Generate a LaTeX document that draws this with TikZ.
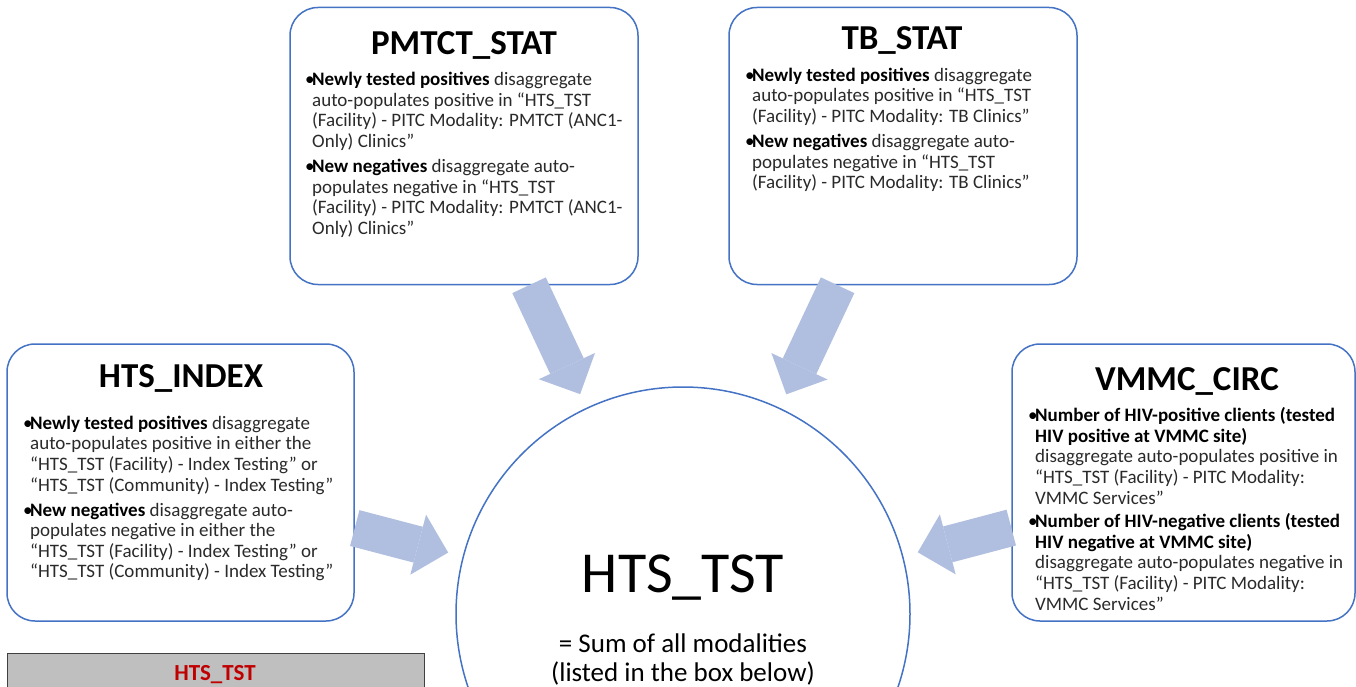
\documentclass[tikz,border=0pt]{standalone}
\usepackage{fontspec}
\setmainfont{Carlito}
\usetikzlibrary{arrows.meta}
\definecolor{boxblue}{HTML}{4472C4}
\definecolor{arrowblue}{HTML}{B0BEE0}
\definecolor{grayfill}{HTML}{BFBFBF}
\definecolor{grayline}{HTML}{404040}
\definecolor{darkred}{HTML}{C00000}
\definecolor{bodygray}{HTML}{2A2A2A}
\newcommand{\mybul}{\makebox[7pt][l]{\textcolor{black}{•}}}
\newcommand{\myind}{\hspace*{7pt}}
\newcommand{\mybold}[1]{\textbf{\textcolor{black}{#1}}}
\begin{document}
\begin{tikzpicture}[x=1pt,y=-1pt,
  infobox/.style={draw=boxblue, line width=1.5pt, rounded corners=28pt, fill=white,
    minimum height=277pt, inner sep=0pt},
  titletext/.style={anchor=base, inner sep=0pt, font=\fontsize{35pt}{40pt}\selectfont\bfseries},
  bodytext/.style={anchor=north west, inner sep=0pt, align=left, text=bodygray,
    font=\fontsize{19pt}{20.6pt}\selectfont},
  bigarrow/.style={draw=arrowblue, line width=37pt,
    -{Triangle[width=62pt 0 0, length=31pt 0 0, line width=0pt]}, shorten >=15pt}
]
\clip (0,0) rectangle (1356,687);
\fill[white] (0,0) rectangle (1356,687);

% boxes
\node[infobox, minimum width=348pt] (pm) at (464,146) {};
\node[infobox, minimum width=348pt] (tb) at (903,146) {};
\node[infobox, minimum width=347pt] (hi) at (180.5,482.5) {};
\node[infobox, minimum width=343pt] (vm) at (1183.5,482.5) {};

% circle
\node[circle, draw=boxblue, line width=1.5pt, minimum size=454pt, inner sep=0pt] (c) at (683,614) {};

% arrows
\draw[bigarrow] (pm) -- (c);
\draw[bigarrow] (tb) -- (c);
\draw[bigarrow] (hi) -- (c);
\draw[bigarrow] (vm) -- (c);

% titles
\node[titletext] (pmt) at (464,55) {PMTCT\_STAT};
\node[titletext] (tbt) at (902,50) {TB\_STAT};
\node[titletext] (hit) at (181,387) {HTS\_INDEX};
\node[titletext] (vmt) at (1187,390) {VMMC\_CIRC};

% bodies
\node[bodytext] (pmb) at (305,72.2) {%
\mybul\mybold{Newly tested positives} disaggregate\\
\myind auto-populates positive in “HTS\_TST\\
\myind (Facility) - PITC Modality: PMTCT (ANC1-\\
\myind Only) Clinics”\\[4.4pt]
\mybul\mybold{New negatives} disaggregate auto-\\
\myind populates negative in “HTS\_TST\\
\myind (Facility) - PITC Modality: PMTCT (ANC1-\\
\myind Only) Clinics”};

\node[bodytext] (tbb) at (745,67.7) {%
\mybul\mybold{Newly tested positives} disaggregate\\
\myind auto-populates positive in “HTS\_TST\\
\myind (Facility) - PITC Modality: TB Clinics”\\[4.4pt]
\mybul\mybold{New negatives} disaggregate auto-\\
\myind populates negative in “HTS\_TST\\
\myind (Facility) - PITC Modality: TB Clinics”};

\node[bodytext] (hib) at (23,415.7) {%
\mybul\mybold{Newly tested positives} disaggregate\\
\myind auto-populates positive in either the\\
\myind “HTS\_TST (Facility) - Index Testing” or\\
\myind “HTS\_TST (Community) - Index Testing”\\[4.4pt]
\mybul\mybold{New negatives} disaggregate auto-\\
\myind populates negative in either the\\
\myind “HTS\_TST (Facility) - Index Testing” or\\
\myind “HTS\_TST (Community) - Index Testing”};

\node[bodytext] (vmb) at (1028,407.4) {%
\mybul\mybold{Number of HIV-positive clients (tested}\\
\myind\mybold{HIV positive at VMMC site)}\\
\myind disaggregate auto-populates positive in\\
\myind “HTS\_TST (Facility) - PITC Modality:\\
\myind VMMC Services”\\[3pt]
\mybul\mybold{Number of HIV-negative clients (tested}\\
\myind\mybold{HIV negative at VMMC site)}\\
\myind disaggregate auto-populates negative in\\
\myind “HTS\_TST (Facility) - PITC Modality:\\
\myind VMMC Services”};

% centre text
\node[anchor=base, inner sep=0pt, font=\fontsize{58pt}{62pt}\selectfont] (ct) at (683,592) {HTS\_TST};
\node[anchor=north, inner sep=0pt, align=center, font=\fontsize{27pt}{29pt}\selectfont] (cs) at (683,634)
  {= Sum of all modalities\\(listed in the box below)};

% grey box
\node[draw=grayline, line width=1pt, fill=grayfill, minimum width=417pt, minimum height=80pt, inner sep=0pt] (g) at (215.5,693) {};
\node[anchor=base, inner sep=0pt, text=darkred, font=\fontsize{23pt}{26pt}\selectfont\bfseries] (gt) at (215,680) {HTS\_TST};
\end{tikzpicture}
\end{document}
